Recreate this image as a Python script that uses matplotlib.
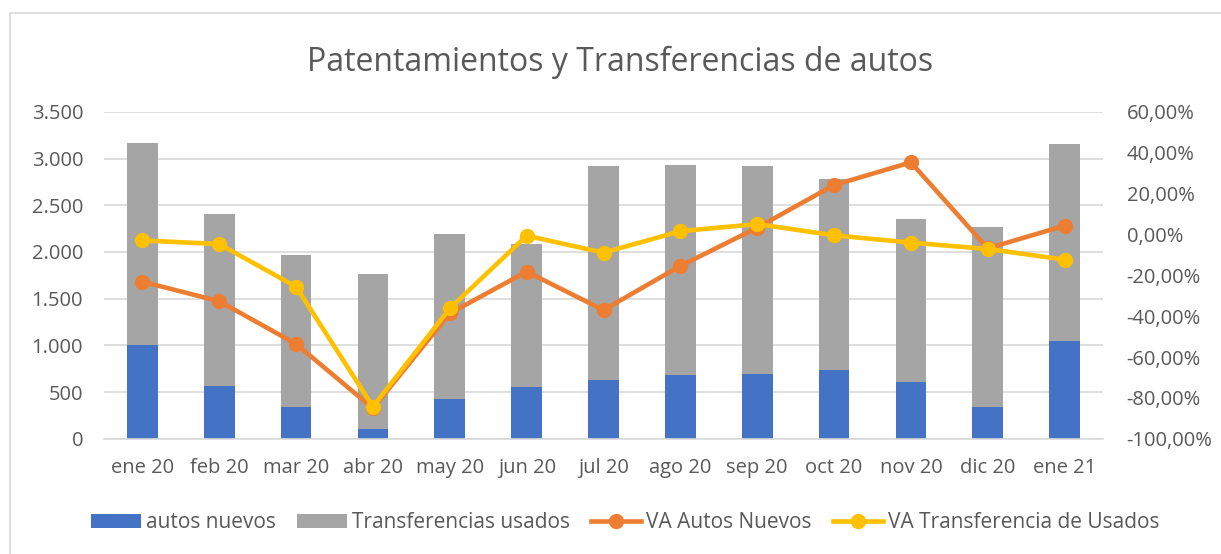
import matplotlib.pyplot as plt
import matplotlib.ticker as mticker
from matplotlib.patches import Rectangle
import numpy as np

plt.rcParams['font.family'] = ['Open Sans', 'DejaVu Sans']

# data
meses = ['ene 20', 'feb 20', 'mar 20', 'abr 20', 'may 20', 'jun 20', 'jul 20',
         'ago 20', 'sep 20', 'oct 20', 'nov 20', 'dic 20', 'ene 21']
autos_nuevos = [1004, 568, 343, 104, 425, 557, 632, 682, 696, 739, 607, 336, 1050]
transf_usados = [2167, 1839, 1625, 1657, 1771, 1532, 2286, 2254, 2222, 2047, 1747, 1932, 2107]
va_autos = [-23.1, -32.7, -53.6, -85.1, -38.6, -18.2, -37.0, -15.4, 3.3, 24.2, 35.3, -6.8, 4.3]
va_transf = [-2.9, -4.7, -25.6, -84.3, -36.2, -0.6, -8.9, 1.6, 5.1, -0.4, -4.0, -7.1, -12.3]

txt = '#595959'
x = np.arange(len(meses))

fig = plt.figure(figsize=(12.21, 5.54), dpi=100)
ax = fig.add_axes([104 / 1221, 0.208, 999 / 1221, 0.590])

ax.bar(x, autos_nuevos, width=0.4, color='#4472c4', label='autos nuevos', zorder=2)
ax.bar(x, transf_usados, width=0.4, bottom=autos_nuevos, color='#a5a5a5',
       label='Transferencias usados', zorder=2)

ax.set_ylim(0, 3500)
ax.set_xlim(-0.5, len(meses) - 0.5)
ax.set_yticks(range(0, 3501, 500))
ax.yaxis.set_major_formatter(mticker.FuncFormatter(lambda v, p: f'{int(v):,}'.replace(',', '.')))
ax.set_xticks(x)
ax.set_xticklabels(meses)
ax.grid(axis='y', color='#d9d9d9', lw=1.2, zorder=0)
ax.set_axisbelow(True)
for s in ['top', 'right', 'left']:
    ax.spines[s].set_visible(False)
ax.spines['bottom'].set_color('#d9d9d9')
ax.spines['bottom'].set_linewidth(1.2)
ax.tick_params(axis='both', length=0, colors=txt, labelsize=14.5)
ax.tick_params(axis='y', pad=15)
ax.tick_params(axis='x', pad=14)

ax2 = ax.twinx()
ax2.plot(x, va_autos, color='#ed7d31', lw=3.3, marker='o', ms=10, label='VA Autos Nuevos', zorder=3)
ax2.plot(x, va_transf, color='#ffc000', lw=3.3, marker='o', ms=10,
         label='VA Transferencia de Usados', zorder=4)
ax2.set_ylim(-100, 60)
ax2.set_yticks(range(-100, 61, 20))
ax2.yaxis.set_major_formatter(mticker.FuncFormatter(lambda v, p: f'{v:.2f}%'.replace('.', ',')))
for s in ax2.spines.values():
    s.set_visible(False)
ax2.tick_params(axis='y', length=0, colors=txt, labelsize=14.5, pad=17)

fig.suptitle('Patentamientos y Transferencias de autos', x=0.508, y=0.918,
             fontsize=23, color=txt)

h1, l1 = ax.get_legend_handles_labels()
h2, l2 = ax2.get_legend_handles_labels()
fig.legend(h1 + h2, l1 + l2, loc='center', bbox_to_anchor=(0.512, 0.056), ncol=4,
           frameon=False, fontsize=15, labelcolor=txt, handlelength=2.4,
           handletextpad=0.25, columnspacing=1.0)

# chart border
fig.patches.append(Rectangle((10 / 1221, -0.1), 1.2, (554 - 13) / 554 + 0.1,
                             transform=fig.transFigure, fill=False,
                             edgecolor='#d9d9d9', lw=1.2))

fig.savefig('out.png', dpi=100)
